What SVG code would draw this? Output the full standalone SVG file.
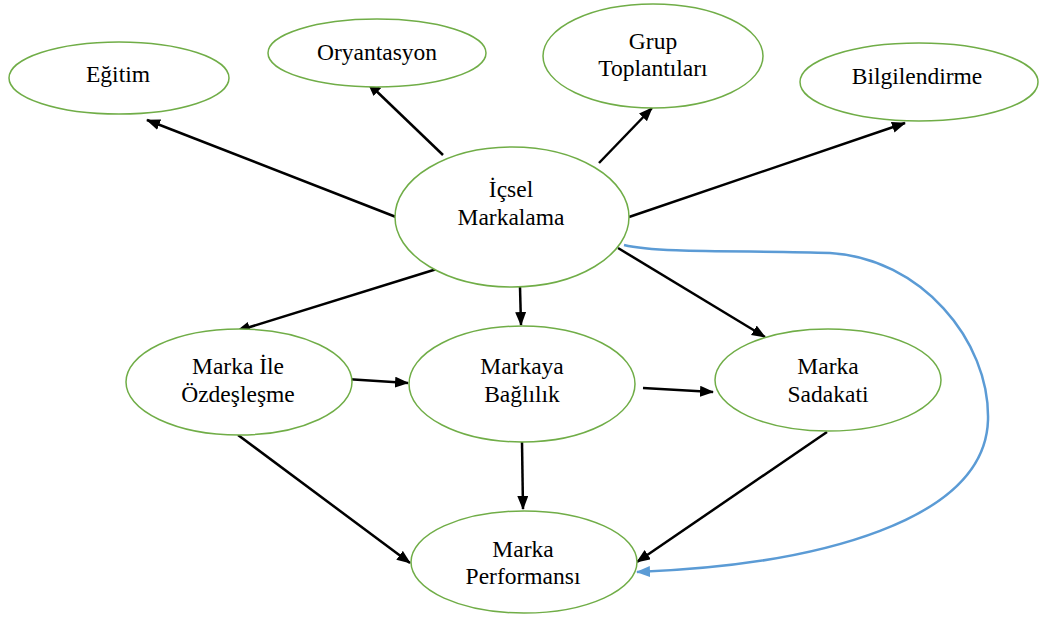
<svg xmlns="http://www.w3.org/2000/svg" width="1062" height="626" viewBox="0 0 1062 626">
<style>
.n{fill:#fff;stroke:#70AD47;stroke-width:1.5}
.t{font-family:"Liberation Serif","Times New Roman",serif;font-size:23.5px;fill:#000;text-anchor:middle}
.c{fill:none;stroke:#000;stroke-width:2.5}
.b{fill:none;stroke:#5B9BD5;stroke-width:2.5}
</style>
<defs>
<marker id="ah" markerUnits="userSpaceOnUse" markerWidth="14" markerHeight="12" refX="13" refY="5.5" orient="auto"><path d="M0,0 L14,5.5 L0,11 z" fill="#000"/></marker>
<marker id="ab" markerUnits="userSpaceOnUse" markerWidth="14" markerHeight="12" refX="13" refY="5.5" orient="auto"><path d="M0,0 L14,5.5 L0,11 z" fill="#5B9BD5"/></marker>
</defs>
<g id="connectors">
<line class="c" x1="396" y1="217" x2="147" y2="120" marker-end="url(#ah)"/>
<line class="c" x1="443" y1="155" x2="368" y2="83" marker-end="url(#ah)"/>
<line class="c" x1="599" y1="163" x2="652" y2="108" marker-end="url(#ah)"/>
<line class="c" x1="629" y1="217" x2="905" y2="123" marker-end="url(#ah)"/>
<line class="c" x1="440" y1="268" x2="237" y2="331" marker-end="url(#ah)"/>
<line class="c" x1="520" y1="287" x2="521" y2="325" marker-end="url(#ah)"/>
<line class="c" x1="618" y1="248" x2="765" y2="337" marker-end="url(#ah)"/>
<line class="c" x1="346" y1="379" x2="408" y2="383" marker-end="url(#ah)"/>
<line class="c" x1="643" y1="388" x2="713" y2="392" marker-end="url(#ah)"/>
<line class="c" x1="522" y1="442" x2="523" y2="509" marker-end="url(#ah)"/>
<line class="c" x1="238" y1="435" x2="410" y2="563" marker-end="url(#ah)"/>
<line class="c" x1="827" y1="432" x2="637" y2="562" marker-end="url(#ah)"/>
<path class="b" d="M624,245 C660,254 760,250 830,253 C920,258 990,340 988,420 C985,520 820,565 637,572" marker-end="url(#ab)"/>
</g>
<g id="egitim"><ellipse class="n" cx="119" cy="78" rx="110" ry="36"/><text class="t" x="118" y="82">Eğitim</text></g>
<g id="oryantasyon"><ellipse class="n" cx="377" cy="53" rx="109" ry="34"/><text class="t" x="377" y="60">Oryantasyon</text></g>
<g id="grup"><ellipse class="n" cx="653" cy="56" rx="110" ry="52"/><text class="t" x="653" y="49">Grup</text><text class="t" x="653" y="76">Toplantıları</text></g>
<g id="bilgilendirme"><ellipse class="n" cx="919" cy="82" rx="119" ry="39"/><text class="t" x="917" y="84">Bilgilendirme</text></g>
<g id="icsel"><ellipse class="n" cx="512" cy="217" rx="117" ry="70"/><text class="t" x="511" y="197">İçsel</text><text class="t" x="511" y="225">Markalama</text></g>
<g id="ozdeslesme"><ellipse class="n" cx="239" cy="382" rx="113" ry="53"/><text class="t" x="238" y="374">Marka İle</text><text class="t" x="238" y="402">Özdeşleşme</text></g>
<g id="baglilik"><ellipse class="n" cx="522" cy="384" rx="113" ry="58"/><text class="t" x="522" y="374">Markaya</text><text class="t" x="522" y="402">Bağlılık</text></g>
<g id="sadakati"><ellipse class="n" cx="828" cy="380" rx="113" ry="51"/><text class="t" x="828" y="374">Marka</text><text class="t" x="828" y="402">Sadakati</text></g>
<g id="performans"><ellipse class="n" cx="524" cy="562" rx="113" ry="51"/><text class="t" x="523" y="557">Marka</text><text class="t" x="523" y="584">Performansı</text></g>
</svg>
